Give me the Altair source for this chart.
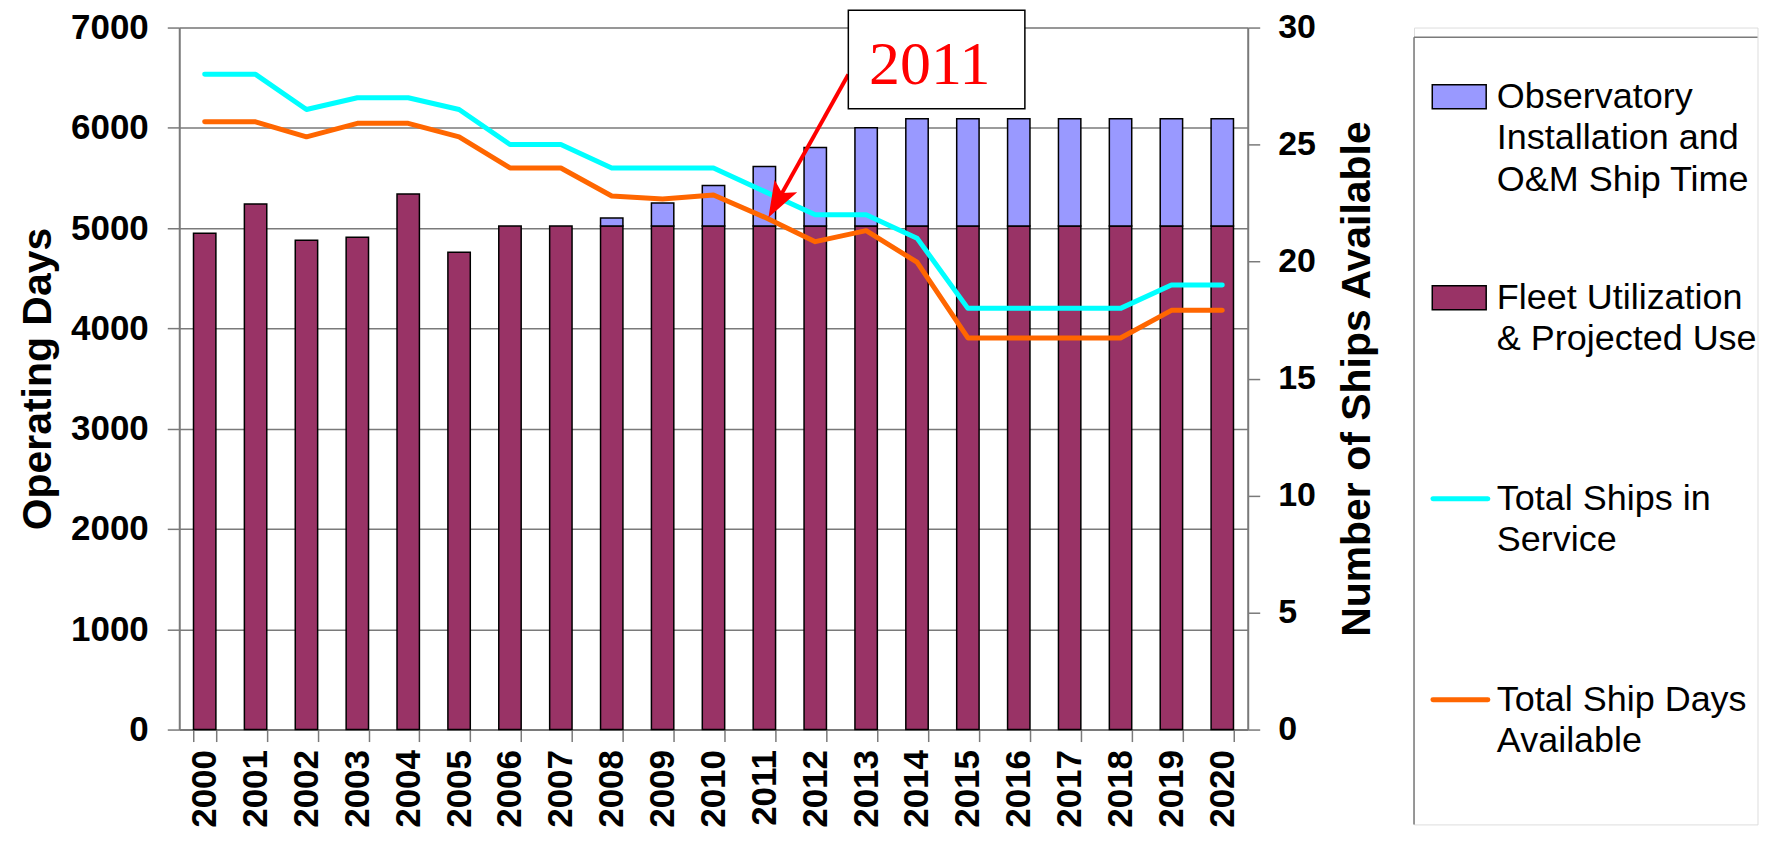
import altair as alt
import pandas as pd

FONT = "Liberation Sans"

# ---------------- data ----------------
years = ["2000", "2001", "2002", "2003", "2004", "2005", "2006", "2007", "2008", "2009", "2010",
         "2011", "2012", "2013", "2014", "2015", "2016", "2017", "2018", "2019", "2020"]
fleet_use = [4950, 5240, 4880, 4910, 5340, 4760, 5020, 5020, 5020, 5020, 5020,
             5020, 5020, 5020, 5020, 5020, 5020, 5020, 5020, 5020, 5020]
observatory = [0, 0, 0, 0, 0, 0, 0, 0, 80, 230, 405,
               595, 785, 980, 1070, 1070, 1070, 1070, 1070, 1070, 1070]
ships_in_service = [28, 28, 26.5, 27, 27, 26.5, 25, 25, 24, 24, 24,
                    23, 22, 22, 21, 18, 18, 18, 18, 19, 19]
ship_days_available = [6060, 6060, 5910, 6045, 6045, 5910, 5600, 5600, 5320, 5290, 5330,
                       5110, 4865, 4975, 4660, 3905, 3905, 3905, 3905, 4180, 4180]

bar_series = ["Fleet Utilization & Projected Use", "Observatory Installation and O&M Ship Time"]
bar_colors = ["#993366", "#9999FF"]
left_ticks = [0, 1000, 2000, 3000, 4000, 5000, 6000, 7000]
right_ticks = [0, 5, 10, 15, 20, 25, 30]

legend_labels = ["Observatory\nInstallation and\nO&M Ship Time",
                 "Fleet Utilization\n& Projected Use",
                 "Total Ships in\nService",
                 "Total Ship Days\nAvailable"]
legend_kinds = ["box", "box", "line", "line"]
legend_colors = ["#9999FF", "#993366", "#00FFFF", "#FF6600"]

# callout (in year / operating-day units)
callout_text = ["2011"]
callout_box_x = [2012.65, 2016.12]
callout_box_y = [6191, 7173]
callout_text_pos = [2014.25, 6440]
arrow_from = [2012.65, 6532]
arrow_to = [2011.27, 5279]
arrow_tip = [2011.08, 5106]

# ---------------- tables ----------------
rows = []
for i, yr in enumerate(years):
    rows.append({"year": yr, "series": bar_series[0], "days": fleet_use[i], "ord": 0})
    if observatory[i] > 0:
        rows.append({"year": yr, "series": bar_series[1], "days": observatory[i], "ord": 1})
bars_df = pd.DataFrame(rows)
lines_df = pd.DataFrame({"year": years, "ships": ships_in_service, "shipdays": ship_days_available})

GRAY = "#7a7a7a"

xband = alt.Scale(type="band", domain=years, paddingInner=0.56, paddingOuter=0.28)
xpoint = alt.Scale(type="point", domain=years, padding=0.5)
xquant = alt.Scale(domain=[1999.5, 2020.5], nice=False, zero=False)
ydays = alt.Scale(domain=[0, 7000], nice=False, zero=True)
yships = alt.Scale(domain=[0, 30], nice=False, zero=True)

bars = alt.Chart(bars_df).mark_bar(stroke="black", strokeWidth=1.5).encode(
    x=alt.X("year:N", scale=xband, sort=years,
            axis=alt.Axis(title=None, labelAngle=270, labelFontSize=35, labelFontWeight="bold",
                          labelColor="black", labelPadding=8, tickSize=12, tickBand="extent",
                          tickColor=GRAY, tickWidth=1.5, domainColor=GRAY, domainWidth=2,
                          grid=False, labelOverlap=False)),
    y=alt.Y("days:Q", stack="zero", scale=ydays,
            axis=alt.Axis(values=left_ticks, format="d", title="Operating Days", titleFontSize=41,
                          titleFontWeight="bold", titleColor="black", titlePadding=11,
                          labelFontSize=35, labelFontWeight="bold", labelColor="black",
                          labelPadding=19, tickSize=12, tickColor=GRAY, tickWidth=1.5,
                          domainColor=GRAY, domainWidth=2, grid=True, gridColor=GRAY,
                          gridWidth=1.5, labelOverlap=False)),
    color=alt.Color("series:N", scale=alt.Scale(domain=bar_series, range=bar_colors), legend=None),
    order=alt.Order("ord:Q"),
)

orange = alt.Chart(lines_df).mark_line(color="#FF6600", strokeWidth=5, strokeJoin="round",
                                       strokeCap="round").encode(
    x=alt.X("year:N", scale=xpoint, sort=years, axis=None),
    y=alt.Y("shipdays:Q", scale=ydays, axis=None),
)

cyan = alt.Chart(lines_df).mark_line(color="#00FFFF", strokeWidth=5, strokeJoin="round",
                                     strokeCap="round").encode(
    x=alt.X("year:N", scale=xpoint, sort=years, axis=None),
    y=alt.Y("ships:Q", scale=yships,
            axis=alt.Axis(orient="right", values=right_ticks, format="d",
                          title="Number of Ships Available",
                          titleFontSize=41, titleFontWeight="bold", titleColor="black",
                          titleAngle=270, titleBaseline="top", titlePadding=22,
                          labelFontSize=34, labelFontWeight="bold", labelColor="black",
                          labelPadding=18, tickSize=12, tickColor=GRAY, tickWidth=1.5,
                          domainColor=GRAY, domainWidth=2, grid=False, labelOverlap=False)),
)

ann_df = pd.DataFrame({
    "bx": [callout_box_x[0]], "bx2": [callout_box_x[1]],
    "by": [callout_box_y[0]], "by2": [callout_box_y[1]],
    "tx": [callout_text_pos[0]], "ty": [callout_text_pos[1]], "txt": callout_text,
    "ax": [arrow_from[0]], "ay": [arrow_from[1]], "ax2": [arrow_to[0]], "ay2": [arrow_to[1]],
    "hx": [arrow_tip[0]], "hy": [arrow_tip[1]],
})
ann = alt.Chart(ann_df)

arrow_line = ann.mark_rule(color="#FF0000", strokeWidth=4).encode(
    x=alt.X("ax:Q", scale=xquant, axis=None), x2="ax2:Q",
    y=alt.Y("ay:Q", scale=ydays, axis=None), y2="ay2:Q",
)
ARROW_PATH = "M0,0L-0.36,-1L0,-0.78L0.36,-1Z"
arrow_head = ann.mark_point(shape=ARROW_PATH, filled=True, color="#FF0000", opacity=1,
                            size=5184, angle=29, strokeWidth=0).encode(
    x=alt.X("hx:Q", scale=xquant, axis=None),
    y=alt.Y("hy:Q", scale=ydays, axis=None),
)
box = ann.mark_rect(fill="white", stroke="black", strokeWidth=1.5).encode(
    x=alt.X("bx:Q", scale=xquant, axis=None), x2="bx2:Q",
    y=alt.Y("by:Q", scale=ydays, axis=None), y2="by2:Q",
)
box_text = ann.mark_text(font="Liberation Serif", fontSize=62, color="#FF0000",
                         align="center", baseline="alphabetic").encode(
    x=alt.X("tx:Q", scale=xquant, axis=None),
    y=alt.Y("ty:Q", scale=ydays, axis=None),
    text="txt:N",
)

main = alt.layer(bars, orange, cyan, arrow_line, arrow_head, box, box_text).resolve_scale(
    x="independent", y="independent"
).properties(width=1070, height=703)

# ---------------- legend panel ----------------
LEG_W, LEG_H = 344, 798
leg_df = pd.DataFrame({"row": [0, 1, 2, 3], "label": legend_labels,
                       "kind": legend_kinds, "color": legend_colors})
rowscale = alt.Scale(domain=[0, 3], range=[69.3, 673.2])
leg = alt.Chart(leg_df)
RECT_PATH = "M-1,-0.444H1V0.444H-1Z"
sw_box = leg.transform_filter(alt.datum.kind == "box").mark_point(
    shape=RECT_PATH, filled=True, size=2916, stroke="black", strokeWidth=1.5, opacity=1).encode(
    x=alt.value(45.3), y=alt.Y("row:Q", scale=rowscale, axis=None),
    fill=alt.Fill("color:N", scale=None),
)
sw_line = leg.transform_filter(alt.datum.kind == "line").mark_rule(strokeWidth=5, strokeCap="round").encode(
    x=alt.value(19), x2=alt.value(74), y=alt.Y("row:Q", scale=rowscale, axis=None),
    color=alt.Color("color:N", scale=None),
)
sw_text = leg.mark_text(align="left", baseline="middle", fontSize=36, lineHeight=41.7,
                        lineBreak="\n", font=FONT, color="black").encode(
    x=alt.value(83), y=alt.Y("row:Q", scale=rowscale, axis=None), text="label:N",
)
frame_df = pd.DataFrame({"k": [0]})
frame_top = alt.Chart(frame_df).mark_rule(color=GRAY, strokeWidth=1.5).encode(
    x=alt.value(0), x2=alt.value(LEG_W), y=alt.value(9.6))
frame_left = alt.Chart(frame_df).mark_rule(color=GRAY, strokeWidth=1.5).encode(
    x=alt.value(0), y=alt.value(9.6), y2=alt.value(LEG_H))

legend_panel = alt.layer(frame_top, frame_left, sw_box, sw_line, sw_text).properties(
    width=LEG_W, height=LEG_H)

chart = alt.hconcat(main, legend_panel, spacing=33.5).properties(
    padding={"left": 8.5, "top": 0, "right": 0, "bottom": 0}
).configure_view(stroke=None).configure_axis(
    labelFont=FONT, titleFont=FONT
).configure(font=FONT, background="white")

chart.save("out.html", embed_options={"renderer": "svg", "actions": False})
